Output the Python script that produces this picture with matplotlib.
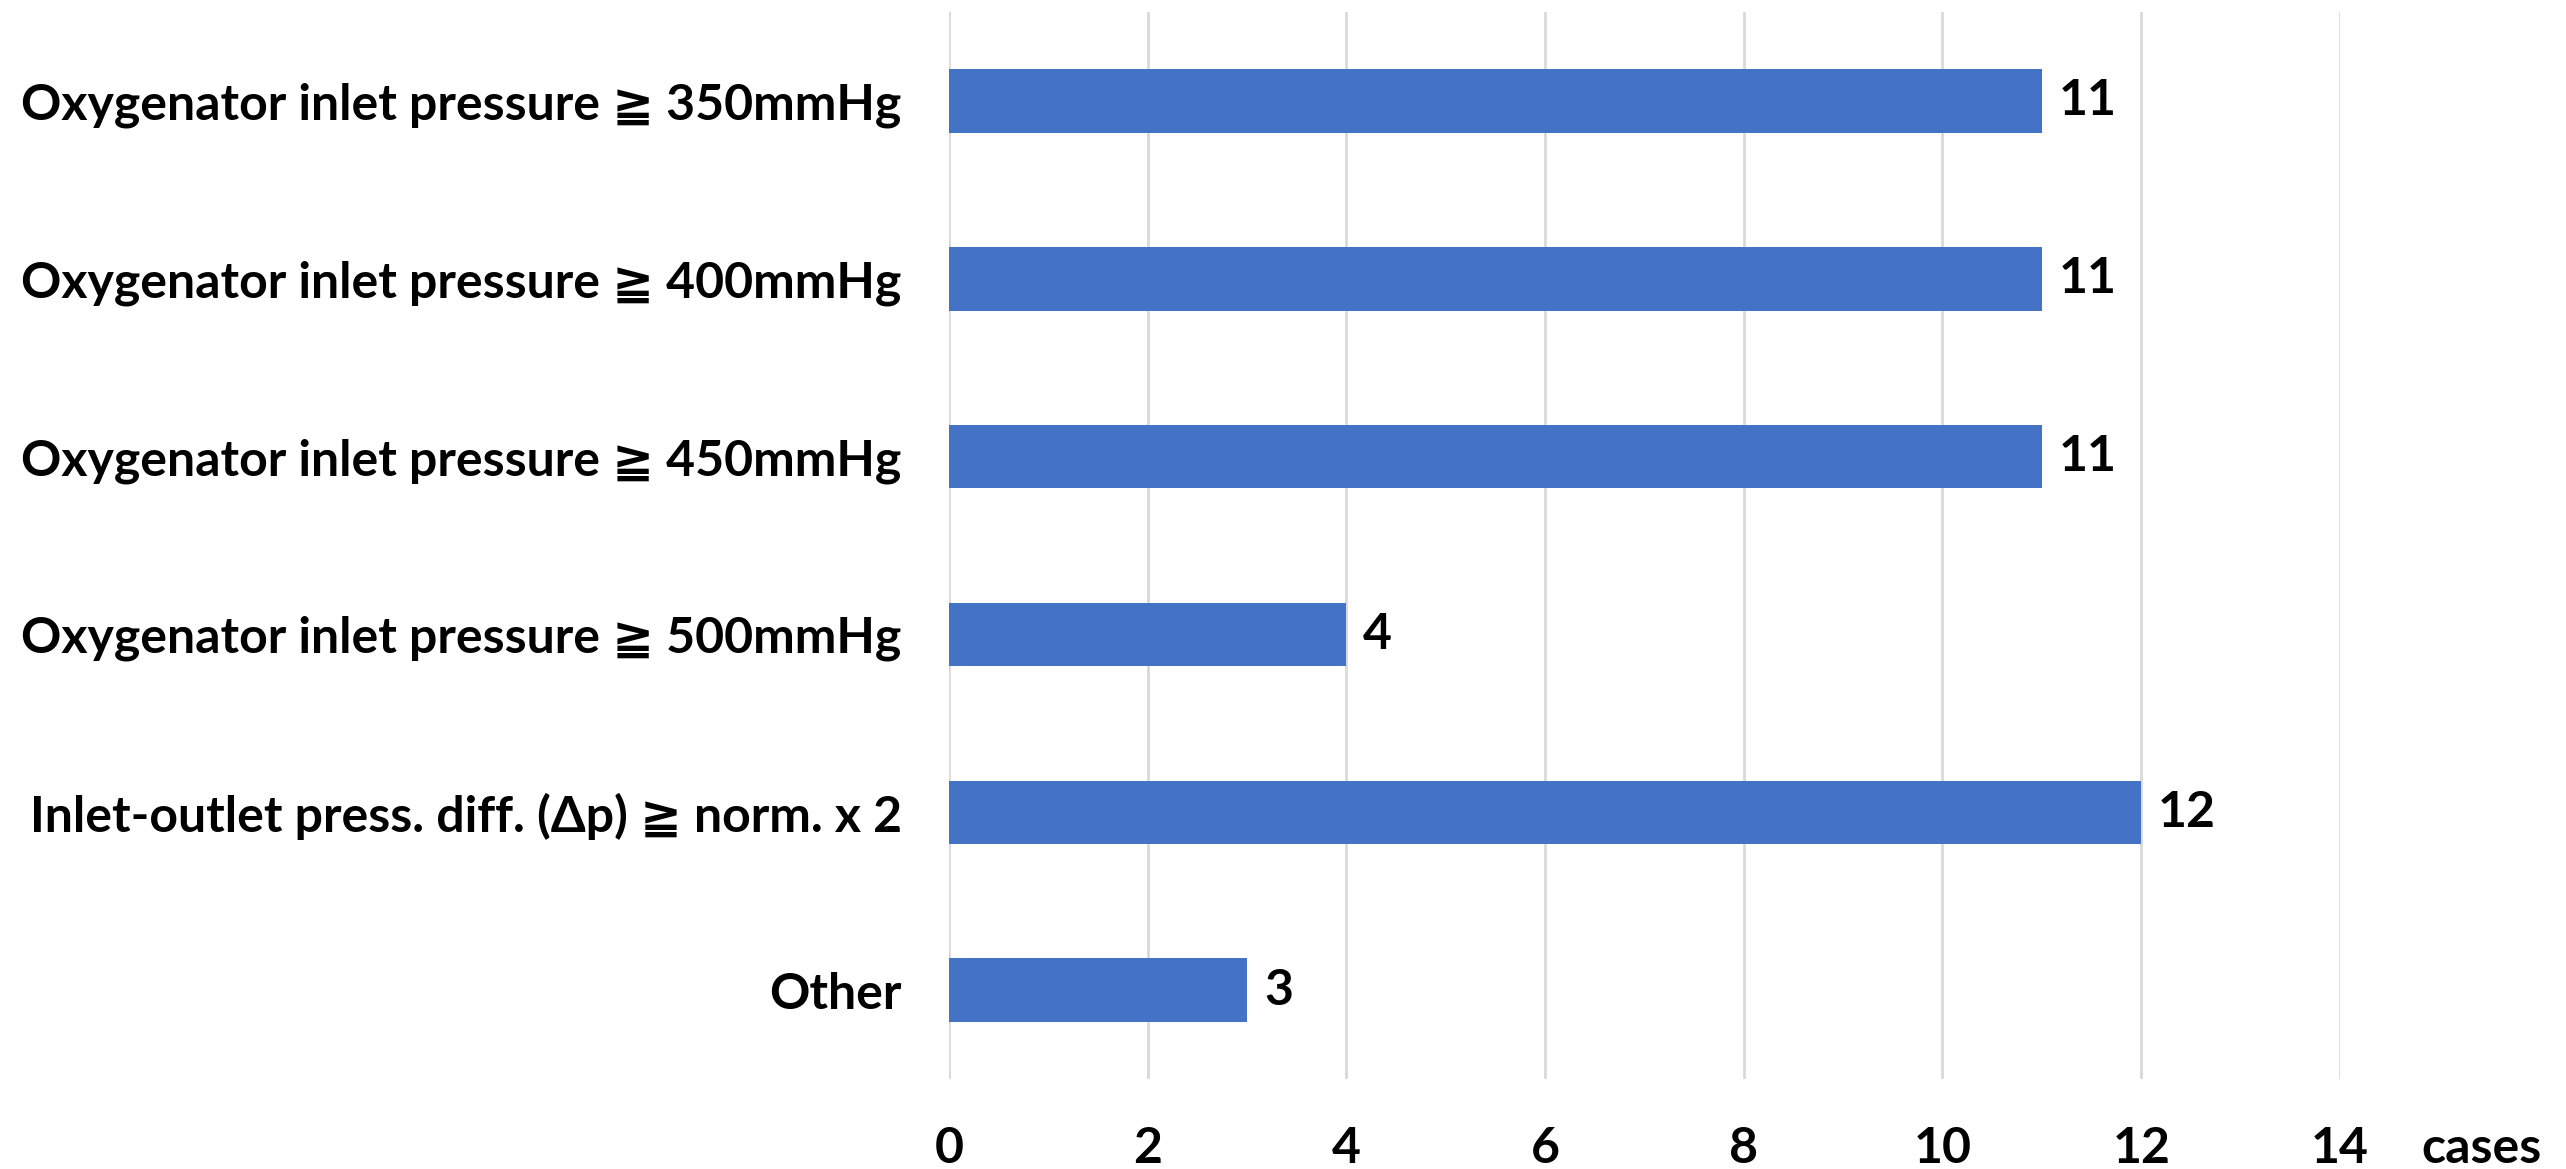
import matplotlib
matplotlib.use("Agg")
import matplotlib.pyplot as plt

categories = [
    "Oxygenator inlet pressure \u2267 350mmHg",
    "Oxygenator inlet pressure \u2267 400mmHg",
    "Oxygenator inlet pressure \u2267 450mmHg",
    "Oxygenator inlet pressure \u2267 500mmHg",
    "Inlet-outlet press. diff. (\u0394p) \u2267 norm. x 2",
    "Other",
]
cases = [11, 11, 11, 4, 12, 3]
x_ticks = [0, 2, 4, 6, 8, 10, 12, 14]

FONT = ["Lato", "DejaVu Sans"]
plt.rcParams["font.family"] = FONT
plt.rcParams["font.weight"] = "bold"
FS = 36

fig = plt.figure(figsize=(25.66, 11.69), dpi=100)
ax = fig.add_axes([0.3698, 0.077, 0.5421, 0.9127])

ypos = list(range(len(categories)))
bars = ax.barh(ypos, cases, height=0.357, color="#4472C4", zorder=3)

ax.set_xlim(0, 14)
ax.set_ylim(len(categories) - 0.5, -0.5)
ax.set_xticks(x_ticks)
ax.set_xticklabels([str(t) for t in x_ticks])
ax.set_yticks(ypos)
ax.set_yticklabels(categories)

ax.tick_params(axis="x", length=0, pad=34, labelsize=FS)
ax.tick_params(axis="y", length=0, pad=34, labelsize=FS)
for lab in ax.get_xticklabels() + ax.get_yticklabels():
    lab.set_fontweight("bold")

ax.grid(axis="x", color="#d9d9d9", linewidth=2, zorder=0)
for s in ax.spines.values():
    s.set_visible(False)

for b, v in zip(bars, cases):
    ax.text(b.get_width() + 0.17, b.get_y() + b.get_height() / 2, str(v),
            va="center", ha="left", fontsize=FS, fontweight="bold")

ax.text(1.102, -0.0647, "cases", transform=ax.transAxes,
        ha="center", va="center", fontsize=FS, fontweight="bold")

fig.savefig("out.png", dpi=100)
